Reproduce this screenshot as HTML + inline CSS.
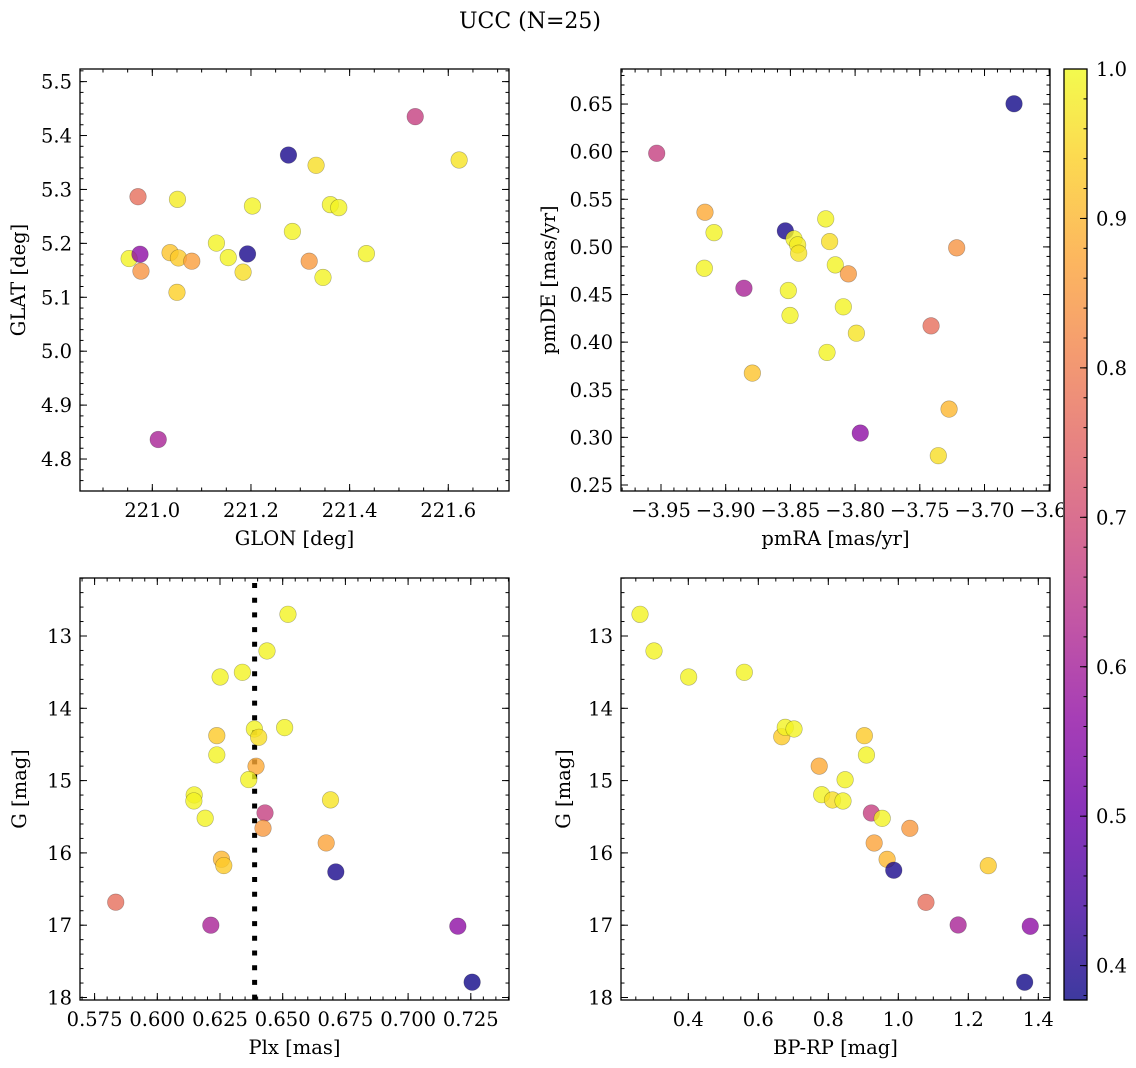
<!DOCTYPE html>
<html><head><meta charset="utf-8"><style>
html,body{margin:0;padding:0;background:#fff}
svg{display:block}
text{font-family:"DejaVu Serif","Liberation Serif",serif;fill:#000}
</style></head><body>
<svg id="fig" width="1136" height="1068" viewBox="0 0 1136 1068" xmlns="http://www.w3.org/2000/svg">
<text x="530" y="28" font-size="22" text-anchor="middle">UCC (N=25)</text>
</svg>
<script>
// ---- Panel 1 data: GLON vs GLAT ----
const glon = [220.953,220.975,220.971,220.977,221.012,221.036,221.051,221.053,221.05,221.08,221.13,221.154,221.184,221.193,221.203,221.276,221.284,221.318,221.332,221.346,221.361,221.378,221.434,221.533,221.622];
const glat = [5.1718,5.1798,5.2865,5.1485,4.8362,5.1828,5.2816,5.173,5.1092,5.1669,5.2006,5.1736,5.1466,5.1804,5.2693,5.3638,5.2221,5.1669,5.3448,5.1368,5.2718,5.2663,5.181,5.435,5.3546];
const prob1 = [0.99,0.56,0.77,0.84,0.61,0.92,0.98,0.93,0.94,0.86,0.99,0.99,0.96,0.39,0.99,0.39,0.99,0.85,0.96,0.99,0.99,0.99,0.99,0.67,0.97];
// ---- Panel 2 data: pmRA vs pmDE ----
const pmra = [-3.9533,-3.916,-3.909,-3.9165,-3.8859,-3.8794,-3.8539,-3.8472,-3.8444,-3.8436,-3.8516,-3.8503,-3.8227,-3.8197,-3.8153,-3.8052,-3.8091,-3.8217,-3.799,-3.796,-3.7413,-3.7215,-3.7274,-3.7357,-3.6772];
const pmde = [0.5983,0.5364,0.515,0.4776,0.4566,0.3675,0.5168,0.5084,0.5021,0.4934,0.4542,0.428,0.5294,0.5056,0.4811,0.4717,0.4371,0.3892,0.4094,0.3045,0.4171,0.499,0.3297,0.2808,0.6503];
const prob2 = [0.67,0.88,0.99,0.99,0.61,0.92,0.39,0.99,0.98,0.97,0.99,0.99,0.99,0.96,0.99,0.85,0.99,0.99,0.97,0.56,0.77,0.84,0.9,0.96,0.38];
// ---- Panel 3 data: Plx vs G ----
const plx = [0.58343,0.62134,0.6521,0.64374,0.62505,0.63393,0.62373,0.62373,0.63871,0.64043,0.65077,0.63937,0.63645,0.61471,0.61458,0.61909,0.64295,0.64215,0.66906,0.66734,0.62558,0.62651,0.67118,0.71983,0.72553];
const gmag3 = [16.682,17.0,12.70,13.207,13.567,13.502,14.378,14.645,14.286,14.401,14.267,14.802,14.986,15.198,15.281,15.521,15.447,15.659,15.267,15.862,16.088,16.175,16.263,17.014,17.788];
const prob3 = [0.77,0.61,0.99,0.99,0.99,0.99,0.93,0.99,0.99,0.96,0.99,0.88,0.99,0.99,0.99,0.99,0.67,0.85,0.97,0.87,0.9,0.93,0.39,0.56,0.38];
const plxMedian = [0.6388];
// ---- Panel 4 data: BP-RP vs G ----
const bprp = [0.262,0.302,0.401,0.56,0.667,0.677,0.702,0.903,0.909,0.774,0.848,0.781,0.812,0.842,0.923,0.954,1.033,0.931,0.968,0.987,1.257,1.079,1.171,1.377,1.361];
const gmag4 = [12.70,13.207,13.567,13.502,14.393,14.263,14.286,14.379,14.646,14.80,14.988,15.195,15.268,15.282,15.448,15.522,15.66,15.863,16.089,16.24,16.177,16.684,16.997,17.015,17.789];
const prob4 = [0.99,0.99,0.99,0.99,0.93,0.99,0.99,0.93,0.99,0.88,0.99,0.99,0.96,0.99,0.67,0.99,0.85,0.87,0.9,0.39,0.93,0.77,0.61,0.56,0.38];
// ---- Tick values / labels ----
const p1XTicks = [221.0,221.2,221.4,221.6];
const p1XLabels = ["221.0","221.2","221.4","221.6"];
const p1YTicks = [4.8,4.9,5.0,5.1,5.2,5.3,5.4,5.5];
const p1YLabels = ["4.8","4.9","5.0","5.1","5.2","5.3","5.4","5.5"];
const p2XTicks = [-3.95,-3.90,-3.85,-3.80,-3.75,-3.70,-3.65];
const p2XLabels = ["\u22123.95","\u22123.90","\u22123.85","\u22123.80","\u22123.75","\u22123.70","\u22123.65"];
const p2YTicks = [0.25,0.30,0.35,0.40,0.45,0.50,0.55,0.60,0.65];
const p2YLabels = ["0.25","0.30","0.35","0.40","0.45","0.50","0.55","0.60","0.65"];
const p3XTicks = [0.575,0.600,0.625,0.650,0.675,0.700,0.725];
const p3XLabels = ["0.575","0.600","0.625","0.650","0.675","0.700","0.725"];
const gTicks = [13,14,15,16,17,18];
const gLabels = ["13","14","15","16","17","18"];
const p4XTicks = [0.4,0.6,0.8,1.0,1.2,1.4];
const p4XLabels = ["0.4","0.6","0.8","1.0","1.2","1.4"];
const cbTicks = [0.4,0.5,0.6,0.7,0.8,0.9,1.0];
const cbLabels = ["0.4","0.5","0.6","0.7","0.8","0.9","1.0"];
const cbRange = [0.377,1.0];

const FS = 19.5;
const NS = "http://www.w3.org/2000/svg";
const svg = document.getElementById('fig');
function mk(tag, attrs, parent){
  const e = document.createElementNS(NS, tag);
  for (const k in attrs) e.setAttribute(k, attrs[k]);
  (parent||svg).appendChild(e);
  return e;
}
const plasma = [[13,8,135],[65,4,157],[106,0,168],[143,13,164],[177,42,144],[204,71,120],[225,100,98],[242,132,75],[252,166,54],[252,206,37],[240,249,33]];
function cmap(v){
  let t = (v - cbRange[0])/(cbRange[1]-cbRange[0]);
  t = Math.max(0, Math.min(1, t));
  const f = t*10, i = Math.min(9, Math.floor(f)), r = f - i;
  const a = plasma[i], b = plasma[i+1];
  return 'rgb(' + [0,1,2].map(k => Math.round(a[k]+(b[k]-a[k])*r)).join(',') + ')';
}

function panel(cfg){
  const g = mk('g', {});
  
  
  const sx = v => cfg.x0 + (v - cfg.xlim[0])/(cfg.xlim[1]-cfg.xlim[0])*(cfg.x1-cfg.x0);
  const sy = cfg.invert
    ? v => cfg.y0 + (v - cfg.ylim[0])/(cfg.ylim[1]-cfg.ylim[0])*(cfg.y1-cfg.y0)
    : v => cfg.y1 - (v - cfg.ylim[0])/(cfg.ylim[1]-cfg.ylim[0])*(cfg.y1-cfg.y0);
  const clipId = cfg.name + '-clip';
  const cp = mk('clipPath', {id: clipId}, g);
  mk('rect', {x: cfg.x0, y: cfg.y0, width: cfg.x1-cfg.x0, height: cfg.y1-cfg.y0}, cp);
  if (cfg.vline){
    const vx = sx(cfg.vline[0]);
    const l = mk('line', {x1: vx, x2: vx, y1: cfg.y0+5, y2: cfg.y1, stroke:'#000', 'stroke-width':5, 'stroke-dasharray':'5 9.7'}, g);
    
    
  }
  const pg = mk('g', {'clip-path': 'url(#'+clipId+')'}, g);
  for (let i = 0; i < cfg.xs.length; i++){
    const c = mk('circle', {cx: sx(cfg.xs[i]), cy: sy(cfg.ys[i]), r: 8.3, fill: cmap(cfg.cs[i]), 'fill-opacity': 0.8, stroke: 'rgba(0,0,0,0.3)', 'stroke-width': 0.6}, pg);
    
    
  }
  const tg = mk('g', {stroke:'#000', 'stroke-width':1}, g);
  function xtick(v, len){
    const x = sx(v); if (x < cfg.x0-0.5 || x > cfg.x1+0.5) return;
    mk('line', {x1:x, x2:x, y1:cfg.y1, y2:cfg.y1-len}, tg);
    mk('line', {x1:x, x2:x, y1:cfg.y0, y2:cfg.y0+len}, tg);
  }
  function ytick(v, len){
    const y = sy(v); if (y < cfg.y0-0.5 || y > cfg.y1+0.5) return;
    mk('line', {x1:cfg.x0, x2:cfg.x0+len, y1:y, y2:y}, tg);
    mk('line', {x1:cfg.x1, x2:cfg.x1-len, y1:y, y2:y}, tg);
  }
  const xmn = Math.min(...cfg.xlim), xmx = Math.max(...cfg.xlim);
  for (let k = Math.ceil(xmn/cfg.xminor - 1e-6); k*cfg.xminor <= xmx; k++) xtick(k*cfg.xminor, 3.5);
  const ymn = Math.min(...cfg.ylim), ymx = Math.max(...cfg.ylim);
  for (let k = Math.ceil(ymn/cfg.yminor - 1e-6); k*cfg.yminor <= ymx; k++) ytick(k*cfg.yminor, 3.5);
  cfg.xt.forEach((v,i) => {
    xtick(v, 7);
    const t = mk('text', {x: sx(v), y: cfg.y1+26, 'font-size': FS, 'text-anchor':'middle'}, g);
    t.textContent = cfg.xl[i];
    
    
  });
  cfg.yt.forEach((v,i) => {
    ytick(v, 7);
    const t = mk('text', {x: cfg.x0-8, y: sy(v)+7, 'font-size': FS, 'text-anchor':'end'}, g);
    t.textContent = cfg.yl[i];
    
    
  });
  const fr = mk('rect', {x: cfg.x0, y: cfg.y0, width: cfg.x1-cfg.x0, height: cfg.y1-cfg.y0, fill:'none', stroke:'#000', 'stroke-width':1.3}, g);
  
  
  const xlab = mk('text', {x: (cfg.x0+cfg.x1)/2, y: cfg.y1+54, 'font-size': FS, 'text-anchor':'middle'}, g);
  xlab.textContent = cfg.xlabel;
  
  
  const cy = (cfg.y0+cfg.y1)/2;
  const ylab = mk('text', {x: cfg.ylx, y: cy, 'font-size': FS, 'text-anchor':'middle', transform: 'rotate(-90 '+cfg.ylx+' '+cy+')'}, g);
  ylab.textContent = cfg.ylabel;
  
  
}

panel({name:'glon-glat-panel', x0:80, x1:509, y0:69, y1:491, xlim:[220.8534,221.7231], ylim:[4.7407,5.5234], xs:glon, ys:glat, cs:prob1, xt:p1XTicks, xl:p1XLabels, yt:p1YTicks, yl:p1YLabels, xminor:0.05, yminor:0.02, xlabel:'GLON [deg]', ylabel:'GLAT [deg]', ylx:25});
panel({name:'pm-panel', x0:621, x1:1050, y0:69, y1:491, xlim:[-3.9809,-3.6494], ylim:[0.2437,0.6868], xs:pmra, ys:pmde, cs:prob2, xt:p2XTicks, xl:p2XLabels, yt:p2YTicks, yl:p2YLabels, xminor:0.01, yminor:0.01, xlabel:'pmRA [mas/yr]', ylabel:'pmDE [mas/yr]', ylx:555});
panel({name:'plx-g-panel', x0:80, x1:509, y0:578, y1:1000, invert:true, xlim:[0.56918,0.74023], ylim:[12.1978,18.0346], xs:plx, ys:gmag3, cs:prob3, xt:p3XTicks, xl:p3XLabels, yt:gTicks, yl:gLabels, xminor:0.005, yminor:0.2, xlabel:'Plx [mas]', ylabel:'G [mag]', ylx:26, vline:plxMedian});
panel({name:'cmd-panel', x0:621, x1:1050, y0:578, y1:1000, invert:true, xlim:[0.2077,1.4334], ylim:[12.1978,18.0346], xs:bprp, ys:gmag4, cs:prob4, xt:p4XTicks, xl:p4XLabels, yt:gTicks, yl:gLabels, xminor:0.05, yminor:0.2, xlabel:'BP-RP [mag]', ylabel:'G [mag]', ylx:570});

// ---- Colorbar ----
(function(){
  const cb = mk('g', {});
  
  
  mk('rect', {x:1063, y:60, width:73, height:950, fill:'#fff'}, cb);
  const defs = mk('defs', {}, cb);
  const lg = mk('linearGradient', {id:'plasmaGrad', x1:0, y1:1, x2:0, y2:0}, defs);
  for (let i = 0; i <= 20; i++){
    const v = cbRange[0] + (cbRange[1]-cbRange[0])*i/20;
    mk('stop', {offset: (i/20), 'stop-color': cmap(v)}, lg);
  }
  const x0 = 1064, x1 = 1087, y0 = 69, y1 = 1000;
  const sy = v => y1 - (v - cbRange[0])/(cbRange[1]-cbRange[0])*(y1-y0);
  mk('rect', {x:x0, y:y0, width:x1-x0, height:y1-y0, fill:'url(#plasmaGrad)', 'fill-opacity':0.8}, cb);
  for (let k = Math.ceil(cbRange[0]/0.02 - 1e-6); k*0.02 <= cbRange[1]+1e-9; k++){
    const y = sy(k*0.02);
    mk('line', {x1:x1, x2:x1-3.5, y1:y, y2:y, stroke:'#000', 'stroke-width':1}, cb);
  }
  cbTicks.forEach((v,i) => {
    const y = sy(v);
    mk('line', {x1:x1, x2:x1-7, y1:y, y2:y, stroke:'#000', 'stroke-width':1}, cb);
    const t = mk('text', {x:1096, y:y+7, 'font-size':FS}, cb);
    t.textContent = cbLabels[i];
    
    
  });
  mk('rect', {x:x0, y:y0, width:x1-x0, height:y1-y0, fill:'none', stroke:'#000', 'stroke-width':1.3}, cb);
})();
</script>
</body></html>
